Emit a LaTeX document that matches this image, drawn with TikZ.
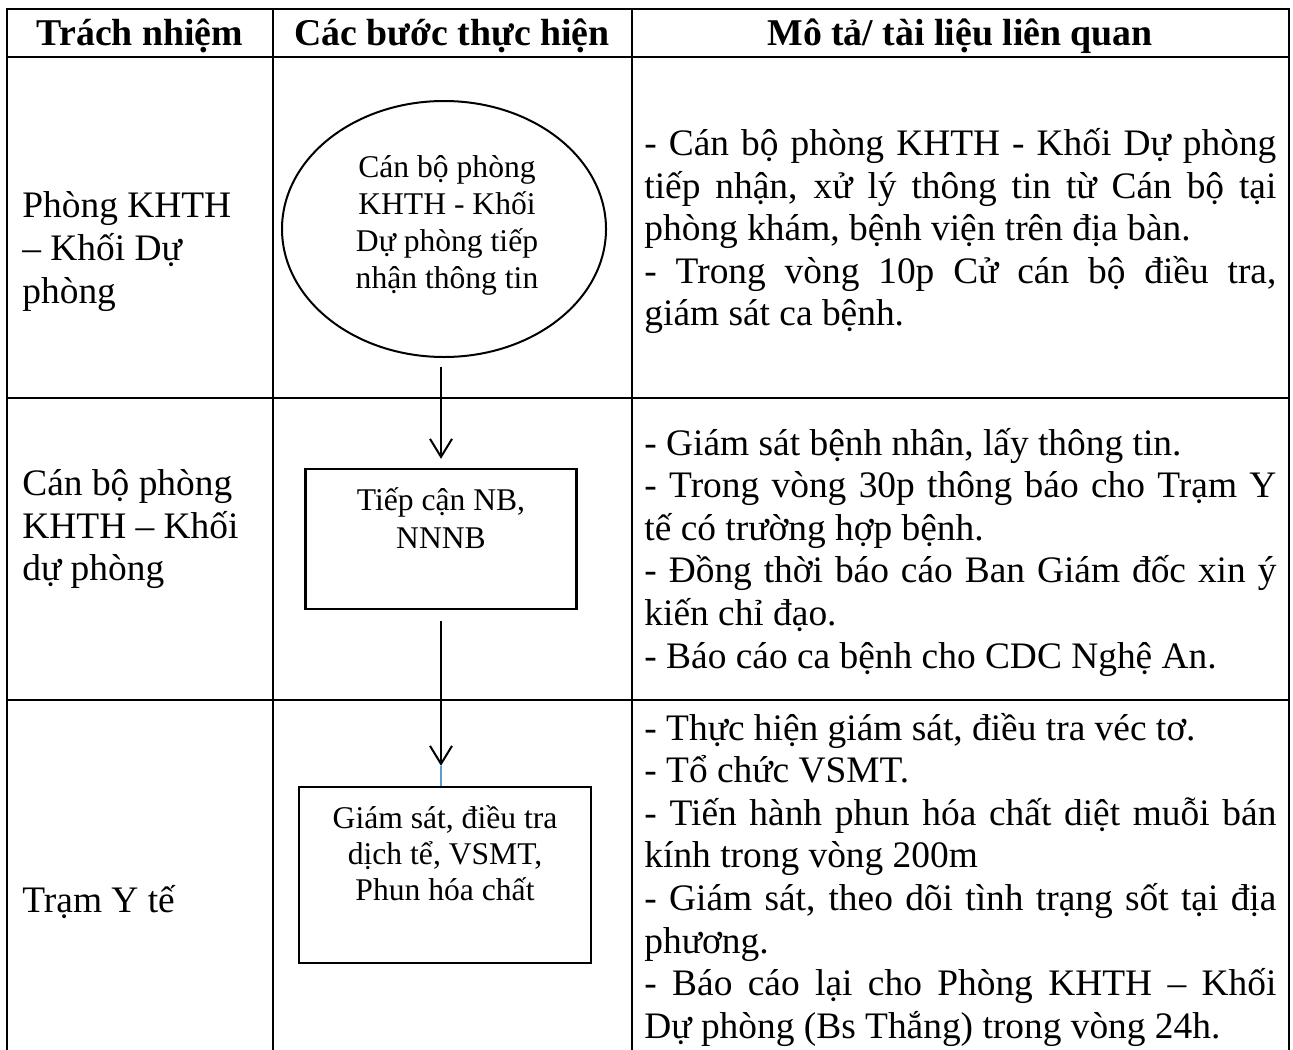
\documentclass[tikz,border=0pt]{standalone}
\usepackage{fontspec}
\setmainfont{Liberation Serif}
\usetikzlibrary{shapes.geometric, arrows.meta}
\definecolor{linkblue}{HTML}{5B9BD5}
\newcommand\jline[1]{\makebox[316pt][s]{#1}}
\tikzset{
  tline/.style={line width=1.2pt, line cap=rect},
  stepbox/.style={draw, line width=1.2pt, rectangle, inner sep=0pt},
  ovalbox/.style={draw, line width=1pt, ellipse, inner sep=0pt},
  arr/.style={line width=1pt, -{Straight Barb[length=9pt, width=11pt, line width=1pt]}},
  bluel/.style={line width=1pt, draw=linkblue},
  body/.style={inner sep=0pt, anchor=base west, font=\fontsize{18.7}{21}\selectfont},
  head/.style={inner sep=0pt, anchor=base, font=\bfseries\fontsize{18.9}{21}\selectfont},
  small/.style={inner sep=0pt, anchor=base, font=\fontsize{15.8}{18}\selectfont},
}
\begin{document}
\begin{tikzpicture}[x=0.5pt, y=-0.5pt]
\fill[white] (0,0) rectangle (1293,1049);
\useasboundingbox (0,0) rectangle (1293,1049);
% table
\draw[tline] (7,1049) -- (7,9) -- (1289,9) -- (1289,1049);
\draw[tline] (7,57) -- (1289,57);
\draw[tline] (7,398) -- (1289,398);
\draw[tline] (7,700) -- (1289,700);
\draw[tline] (273,9) -- (273,1049);
\draw[tline] (632,9) -- (632,1049);
% header
\node[head] (h1) at (140,45) {Trách nhiệm};
\node[head] (h2) at (452,45) {Các bước thực hiện};
\node[head] (h3) at (960,45) {Mô tả/ tài liệu liên quan};
% column 1
\node[body] (c1a) at (22,217) {Phòng KHTH};
\node[body] (c1b) at (22,260) {– Khối Dự};
\node[body] (c1c) at (22,303) {phòng};
\node[body] (c2a) at (22,495) {Cán bộ phòng};
\node[body] (c2b) at (22,538) {KHTH – Khối};
\node[body] (c2c) at (22,580) {dự phòng};
\node[body] (c3a) at (22,912) {Trạm Y tế};
% flow shapes
\node[ovalbox, minimum width=162pt, minimum height=128pt] (ell) at (444,229) {};
\node[stepbox, minimum width=135.5pt, minimum height=70pt] (box2) at (441,539) {};
\node[stepbox, minimum width=146pt, minimum height=88pt] (box3) at (445,875) {};
\node[small] (e1) at (447,177) {Cán bộ phòng};
\node[small] (e2) at (447,214) {KHTH - Khối};
\node[small] (e3) at (447,251) {Dự phòng tiếp};
\node[small] (e4) at (447,288) {nhận thông tin};
\node[small] (b21) at (441,510) {Tiếp cận NB,};
\node[small] (b22) at (441,548) {NNNB};
\node[small] (b31) at (445,828) {Giám sát, điều tra};
\node[small] (b32) at (445,864) {dịch tể, VSMT,};
\node[small] (b33) at (445,900) {Phun hóa chất};
% connectors
\draw[arr, shorten <=4.5pt, shorten >=4.5pt] (ell.south -| box2.north) -- (box2.north);
\coordinate (b3top) at (box2.south |- box3.north);
\draw[arr, shorten <=5.5pt, shorten >=10pt] (box2.south) -- (b3top);
\draw[bluel] (b3top) -- ++(0,-20);
% column 3 row 1
\node[body] (r1a) at (644,155.5) {\jline{- Cán bộ phòng KHTH - Khối Dự phòng}};
\node[body] (r1b) at (644,198) {\jline{tiếp nhận, xử lý thông tin từ Cán bộ tại}};
\node[body] (r1c) at (644,240.5) {phòng khám, bệnh viện trên địa bàn.};
\node[body] (r1d) at (644,283) {\jline{- Trong vòng 10p Cử cán bộ điều tra,}};
\node[body] (r1e) at (644,325.5) {giám sát ca bệnh.};
% row 2
\node[body] (r2a) at (644,455) {- Giám sát bệnh nhân, lấy thông tin.};
\node[body] (r2b) at (644,497.6) {\jline{- Trong vòng 30p thông báo cho Trạm Y}};
\node[body] (r2c) at (644,540.2) {tế có trường hợp bệnh.};
\node[body] (r2d) at (644,582.8) {\jline{- Đồng thời báo cáo Ban Giám đốc xin ý}};
\node[body] (r2e) at (644,625.4) {kiến chỉ đạo.};
\node[body] (r2f) at (644,668) {- Báo cáo ca bệnh cho CDC Nghệ An.};
% row 3
\node[body] (r3a) at (644,740) {- Thực hiện giám sát, điều tra véc tơ.};
\node[body] (r3b) at (644,782.6) {- Tổ chức VSMT.};
\node[body] (r3c) at (644,825.2) {\jline{- Tiến hành phun hóa chất diệt muỗi bán}};
\node[body] (r3d) at (644,867.8) {kính trong vòng 200m};
\node[body] (r3e) at (644,910.4) {\jline{- Giám sát, theo dõi tình trạng sốt tại địa}};
\node[body] (r3f) at (644,953) {phương.};
\node[body] (r3g) at (644,995.6) {\jline{- Báo cáo lại cho Phòng KHTH – Khối}};
\node[body] (r3h) at (644,1038) {Dự phòng (Bs Thắng) trong vòng 24h.};
\end{tikzpicture}
\end{document}
